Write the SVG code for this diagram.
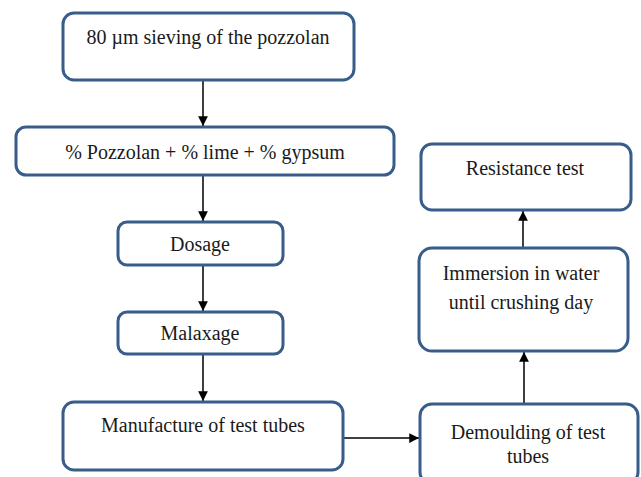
<svg xmlns="http://www.w3.org/2000/svg" width="641" height="477" viewBox="0 0 641 477">
<style>
.box{fill:#ffffff;stroke:#385d8a;stroke-width:3}
.t{font-family:"Liberation Serif","Times New Roman",serif;font-size:20px;fill:#1a1a1a;text-anchor:middle}
.c{stroke:#000;stroke-width:1.5;fill:none;marker-end:url(#ah)}
</style>
<defs>
<marker id="ah" viewBox="0 0 10 10" refX="10" refY="5" markerWidth="6.5" markerHeight="6.5" orient="auto" markerUnits="strokeWidth">
<path d="M0,0 L10,5 L0,10 z" fill="#000"/>
</marker>
</defs>
<rect width="641" height="477" fill="#fff"/>
<g id="connectors">
<line class="c" x1="203" y1="80" x2="203" y2="126"/>
<line class="c" x1="203" y1="176" x2="203" y2="221"/>
<line class="c" x1="203" y1="265" x2="203" y2="311"/>
<line class="c" x1="203" y1="354" x2="203" y2="401"/>
<line class="c" x1="343" y1="438" x2="419" y2="438"/>
<line class="c" x1="524" y1="404" x2="524" y2="352"/>
<line class="c" x1="523" y1="248" x2="523" y2="211"/>
</g>
<g id="n1">
<rect class="box" x="63" y="13" width="291" height="67" rx="11"/>
<text class="t" x="208" y="44">80 µm sieving of the pozzolan</text>
</g>
<g id="n2">
<rect class="box" x="16" y="127" width="378" height="48" rx="10"/>
<text class="t" x="205" y="159">% Pozzolan + % lime + % gypsum</text>
</g>
<g id="n3">
<rect class="box" x="118" y="222" width="165" height="43" rx="9"/>
<text class="t" x="200" y="251">Dosage</text>
</g>
<g id="n4">
<rect class="box" x="118" y="312" width="165" height="42" rx="9"/>
<text class="t" x="200" y="340">Malaxage</text>
</g>
<g id="n5">
<rect class="box" x="63" y="402" width="280" height="68" rx="11"/>
<text class="t" x="203" y="432">Manufacture of test tubes</text>
</g>
<g id="n6">
<rect class="box" x="420" y="404" width="218" height="80" rx="12"/>
<text class="t" x="528" y="439">Demoulding of test</text>
<text class="t" x="528" y="463">tubes</text>
</g>
<g id="n7">
<rect class="box" x="419" y="248" width="209" height="103" rx="13"/>
<text class="t" x="521" y="280">Immersion in water</text>
<text class="t" x="521" y="309">until crushing day</text>
</g>
<g id="n8">
<rect class="box" x="421" y="144" width="210" height="66" rx="11"/>
<text class="t" x="525" y="175">Resistance test</text>
</g>
</svg>
